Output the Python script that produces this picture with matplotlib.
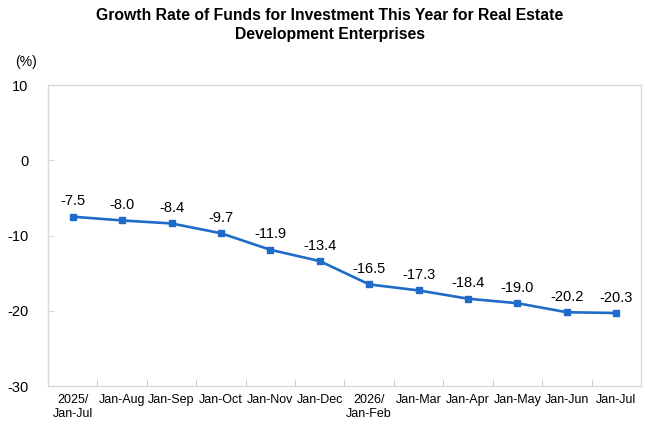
import matplotlib
matplotlib.use("Agg")
import matplotlib.pyplot as plt

categories = ["2025/\nJan-Jul", "Jan-Aug", "Jan-Sep", "Jan-Oct", "Jan-Nov", "Jan-Dec",
              "2026/\nJan-Feb", "Jan-Mar", "Jan-Apr", "Jan-May", "Jan-Jun", "Jan-Jul"]
values = [-7.5, -8.0, -8.4, -9.7, -11.9, -13.4, -16.5, -17.3, -18.4, -19.0, -20.2, -20.3]
yticks = [10, 0, -10, -20, -30]

plt.rcParams['font.family'] = ['Liberation Sans', 'DejaVu Sans']

fig = plt.figure(figsize=(6.6, 4.4), dpi=100)
ax = fig.add_axes([48/660, 1-386/440, (641-48)/660, (386-85)/440])

x = list(range(len(categories)))
color = '#1F6BC8'
ax.plot(x, values, color=color, lw=1.9, marker='s', markersize=4.5, zorder=3)
for xi, v in zip(x, values):
    ax.annotate(f"{v:.1f}", (xi, v), xytext=(0, 6), textcoords='offset points',
                ha='center', va='bottom', fontsize=10.5)

ax.set_xlim(-0.5, len(categories) - 0.5)
ax.set_ylim(-30, 10)
ax.set_yticks(yticks)
ax.set_yticklabels([str(t) for t in yticks], fontsize=10.5)
ax.set_xticks(x)
ax.set_xticklabels(categories, fontsize=9)
ax.set_xticks([i + 0.5 for i in range(len(categories) - 1)], minor=True)
ax.tick_params(axis='x', which='major', length=0, pad=6)
ax.tick_params(axis='x', which='minor', direction='in', length=4, color='#BFBFBF')
ax.tick_params(axis='y', direction='in', length=4, color='#D9D9D9', pad=14)
for s in ax.spines.values():
    s.set_color('#D9D9D9')
    s.set_linewidth(1.0)

fig.text(0.5, 1 - 25/440, "Growth Rate of Funds for Investment This Year for Real Estate\nDevelopment Enterprises",
         ha='center', va='center', fontsize=11.3, fontweight='bold', linespacing=1.25)
fig.text(15/660, 1 - 62/440, "(%)", ha='left', va='center', fontsize=10)

fig.savefig("out.png", dpi=100)
